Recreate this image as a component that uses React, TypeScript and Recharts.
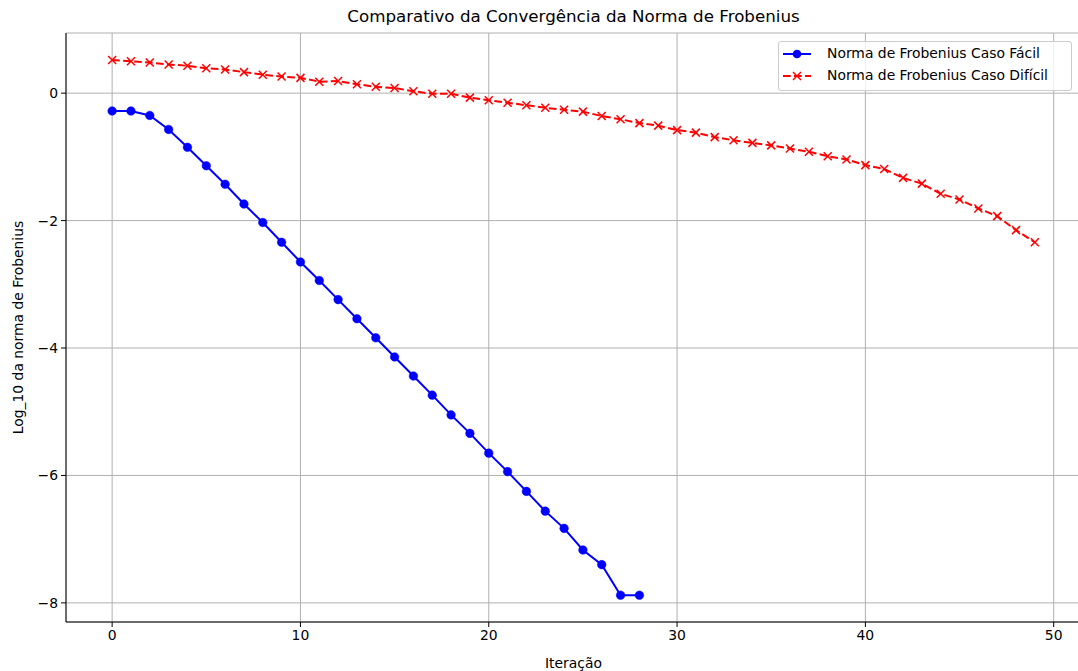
import { LineChart, Line, XAxis, YAxis, CartesianGrid, Legend } from "recharts";

const FONT = "'DejaVu Sans', sans-serif";
const BLUE = "#0000ff";
const RED = "#ff0000";

// log10 of the Frobenius norm per iteration
const easyValues = [
  -0.28, -0.28, -0.35, -0.57, -0.85, -1.14, -1.43, -1.74, -2.03, -2.34,
  -2.65, -2.94, -3.24, -3.54, -3.84, -4.14, -4.44, -4.74, -5.05, -5.34,
  -5.65, -5.94, -6.25, -6.56, -6.83, -7.17, -7.40, -7.88, -7.88,
];

const hardValues = [
  0.52, 0.5, 0.48, 0.45, 0.43, 0.39, 0.37, 0.33, 0.29, 0.26,
  0.24, 0.18, 0.19, 0.14, 0.1, 0.08, 0.03, -0.01, -0.01, -0.07,
  -0.11, -0.15, -0.19, -0.23, -0.26, -0.29, -0.36, -0.41, -0.47, -0.51,
  -0.58, -0.62, -0.69, -0.74, -0.78, -0.82, -0.87, -0.92, -0.99, -1.04,
  -1.13, -1.19, -1.33, -1.42, -1.58, -1.67, -1.81, -1.93, -2.15, -2.34,
];

const xTicks = [0, 10, 20, 30, 40, 50];
const yTicks = [-8, -6, -4, -2, 0];

const easyData = easyValues.map((v, i) => ({ iter: i, value: v }));
const hardData = hardValues.map((v, i) => ({ iter: i, value: v }));

const fmt = (v: number) => (v < 0 ? `\u2212${-v}` : `${v}`);

const CrossDot = (props: any) => {
  const { cx, cy, index } = props;
  const s = 4;
  return (
    <g key={`x-${index}`}>
      <line x1={cx - s} y1={cy - s} x2={cx + s} y2={cy + s} stroke={RED} strokeWidth={1.5} />
      <line x1={cx - s} y1={cy + s} x2={cx + s} y2={cy - s} stroke={RED} strokeWidth={1.5} />
    </g>
  );
};

const LegendBox = () => (
  <div
    style={{
      width: 294,
      height: 50,
      boxSizing: "border-box",
      border: "1px solid #cccccc",
      borderRadius: 3,
      background: "rgba(255,255,255,0.8)",
      fontFamily: FONT,
      fontSize: 13.9,
      color: "#000",
      position: "relative",
    }}
  >
    <svg width={40} height={50} style={{ position: "absolute", left: 0, top: 0 }}>
      <line x1={4} y1={12} x2={32} y2={12} stroke={BLUE} strokeWidth={2} />
      <circle cx={18} cy={12} r={4.3} fill={BLUE} />
      <line x1={4} y1={34} x2={32} y2={34} stroke={RED} strokeWidth={2} strokeDasharray="7.7 3.3" />
      <line x1={14} y1={30} x2={22} y2={38} stroke={RED} strokeWidth={1.5} />
      <line x1={14} y1={38} x2={22} y2={30} stroke={RED} strokeWidth={1.5} />
    </svg>
    <div style={{ position: "absolute", left: 48, top: 3, whiteSpace: "nowrap" }}>
      Norma de Frobenius Caso Fácil
    </div>
    <div style={{ position: "absolute", left: 48, top: 25, whiteSpace: "nowrap" }}>
      Norma de Frobenius Caso Difícil
    </div>
  </div>
);

export default function App() {
  return (
    <div
      style={{
        position: "absolute",
        left: 0,
        top: 0,
        width: 1078,
        height: 671,
        overflow: "hidden",
        background: "#fff",
      }}
    >
      <div
        style={{
          position: "absolute",
          left: 66,
          width: 1015,
          top: 6,
          textAlign: "center",
          fontFamily: FONT,
          fontSize: 16.7,
          color: "#000",
        }}
      >
        Comparativo da Convergência da Norma de Frobenius
      </div>
      <LineChart
        width={1082}
        height={671}
        margin={{ top: 33, right: 1, bottom: 0, left: 16 }}
      >
        <CartesianGrid stroke="#b0b0b0" strokeWidth={1} />
        <XAxis
          xAxisId={0}
          type="number"
          dataKey="iter"
          domain={[-2.45, 51.45]}
          ticks={xTicks}
          allowDataOverflow
          height={49}
          stroke="#000"
          tickSize={5}
          tickMargin={3}
          tick={{ fontSize: 13.9, fontFamily: FONT, fill: "#000" }}
          label={{
            value: "Iteração",
            position: "insideBottom",
            offset: 3,
            style: { fontSize: 13.9, fontFamily: FONT, fill: "#000" },
          }}
        />
        <XAxis
          xAxisId="top"
          orientation="top"
          type="number"
          domain={[-2.45, 51.45]}
          height={0}
          tick={false}
          tickLine={false}
          stroke="#000"
        />
        <YAxis
          yAxisId={0}
          type="number"
          domain={[-8.3, 0.944]}
          ticks={yTicks}
          allowDataOverflow
          width={50}
          stroke="#000"
          tickSize={5}
          tickMargin={3}
          tickFormatter={fmt}
          tick={{ fontSize: 13.9, fontFamily: FONT, fill: "#000" }}
          label={{
            value: "Log_10 da norma de Frobenius",
            angle: -90,
            position: "insideLeft",
            offset: 2,
            style: { fontSize: 13.9, fontFamily: FONT, fill: "#000", textAnchor: "middle" },
          }}
        />
        <YAxis
          yAxisId="right"
          orientation="right"
          type="number"
          domain={[-8.3, 0.944]}
          width={0}
          tick={false}
          tickLine={false}
          stroke="#000"
        />
        <Legend
          layout="vertical"
          align="center"
          verticalAlign="middle"
          content={() => <LegendBox />}
          wrapperStyle={{ left: 778, top: 41, width: 294, height: 50 }}
        />
        <Line
          data={easyData}
          dataKey="value"
          name="Norma de Frobenius Caso Fácil"
          stroke={BLUE}
          strokeWidth={2}
          dot={{ r: 4.3, fill: BLUE, stroke: BLUE, strokeWidth: 0.5 }}
          activeDot={false}
          isAnimationActive={false}
        />
        <Line
          data={hardData}
          dataKey="value"
          name="Norma de Frobenius Caso Difícil"
          stroke={RED}
          strokeWidth={2}
          strokeDasharray="7.7 3.3"
          dot={CrossDot}
          activeDot={false}
          isAnimationActive={false}
        />
      </LineChart>
    </div>
  );
}
